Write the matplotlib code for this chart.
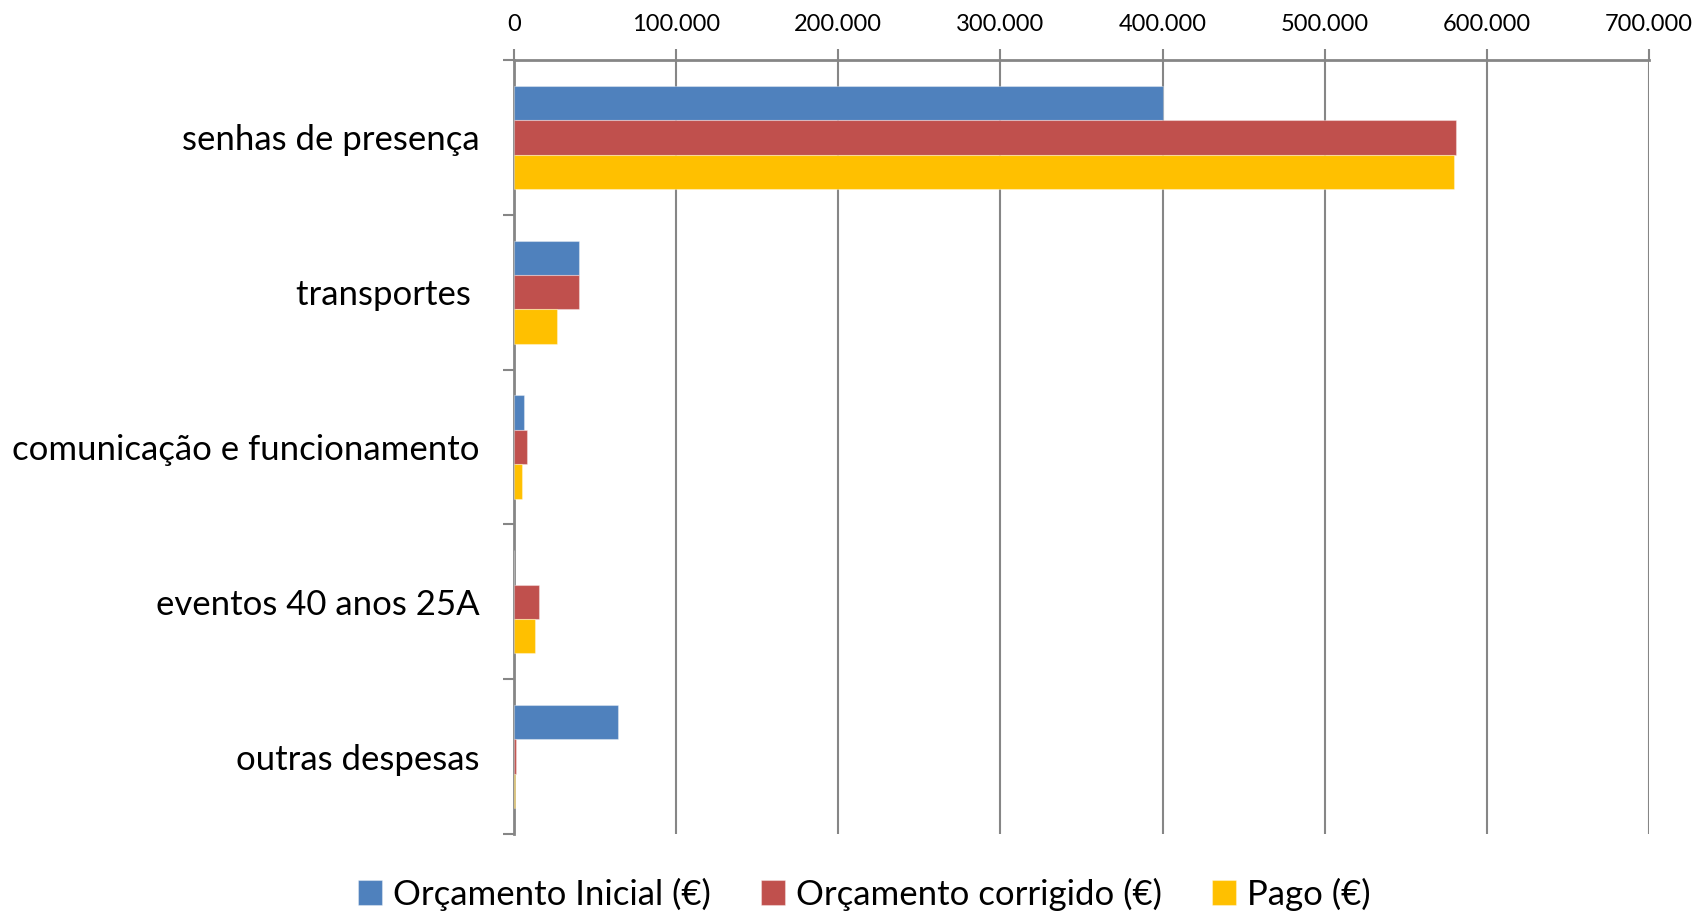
import numpy as np
import matplotlib
matplotlib.use("Agg")
import matplotlib.pyplot as plt
from matplotlib.ticker import FuncFormatter, FixedLocator

plt.rcParams['font.family'] = ['Lato', 'DejaVu Sans']

categories = ['senhas de presença', 'transportes ', 'comunicação e funcionamento',
              'eventos 40 anos 25A', 'outras despesas']
orcamento_inicial = [400000, 40000, 6000, 0, 64000]
orcamento_corrigido = [581000, 40000, 7800, 15600, 1000]
pago = [580000, 26700, 5200, 13200, 700]
series_names = ['Orçamento Inicial (€)', 'Orçamento corrigido (€)', 'Pago (€)']
colors = ['#4F81BD', '#C0504D', '#FFC000']
x_ticks = [0, 100000, 200000, 300000, 400000, 500000, 600000, 700000]

fig = plt.figure(figsize=(16.98, 9.16), dpi=100)
ax = fig.add_axes([0.3027, 0.0895, 0.6684, 0.845])

y = np.arange(len(categories))
h = 0.222
for i, (vals, name, col) in enumerate(zip([orcamento_inicial, orcamento_corrigido, pago],
                                          series_names, colors)):
    ax.barh(y + (i - 1) * h, vals, height=h, color=col, label=name,
            edgecolor=(1, 1, 1, 0.35), linewidth=0.8, zorder=3)

ax.set_xlim(0, 700000)
ax.set_ylim(len(categories) - 0.5, -0.5)
ax.xaxis.tick_top()
ax.xaxis.set_major_locator(FixedLocator(x_ticks))
ax.xaxis.set_major_formatter(FuncFormatter(lambda v, p: f'{int(v):,}'.replace(',', '.')))
ax.tick_params(axis='x', direction='out', length=8, width=1.5, color='#868686',
               labelsize=17, pad=10)
ax.grid(axis='x', color='#868686', linewidth=1.5, zorder=0)

ax.set_yticks(y)
ax.set_yticklabels(categories, fontsize=25)
ax.set_yticks(np.arange(-0.5, len(categories)), minor=True)
ax.tick_params(axis='y', which='major', length=0, pad=25)
ax.tick_params(axis='y', which='minor', direction='out', length=8, width=1.5, color='#868686')

for s in ['right', 'bottom']:
    ax.spines[s].set_visible(False)
for s in ['top', 'left']:
    ax.spines[s].set_color('#868686')
    ax.spines[s].set_linewidth(2)

handles, labels = ax.get_legend_handles_labels()
fig.legend(handles, labels, loc='center', bbox_to_anchor=(0.509, 0.024), ncol=3,
           frameon=False, fontsize=25, handlelength=0.7, handleheight=0.7,
           handletextpad=0.3, columnspacing=1.45)

fig.savefig('out.png', dpi=100)
